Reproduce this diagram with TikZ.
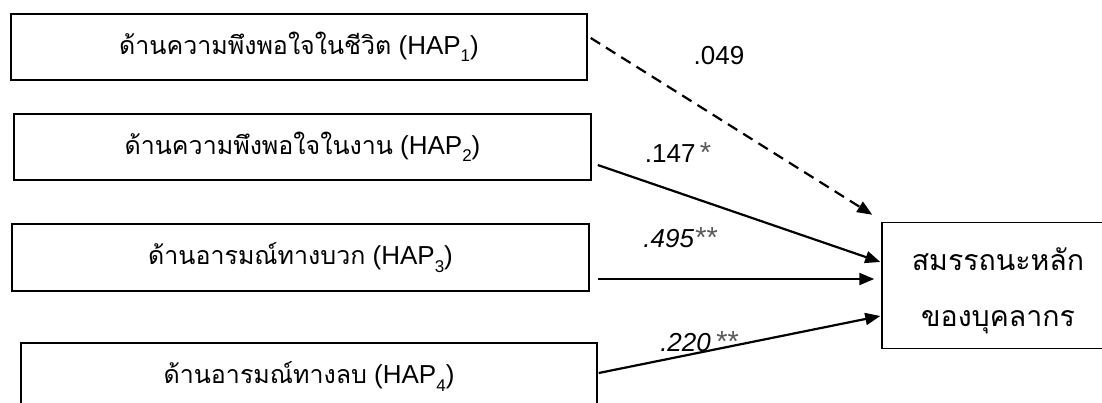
\documentclass[tikz,border=0pt]{standalone}
\usepackage{fontspec}
\setmainfont{Liberation Sans}
\newfontfamily\thaifont[Script=Thai]{Loma}
\usetikzlibrary{arrows.meta,calc}

% subscript index for the HAP labels
\newcommand{\hapidx}[1]{\raisebox{-0.28em}{\fontsize{17}{17}\selectfont #1}}
\newcommand{\hap}[2]{{\thaifont\fontsize{25}{28}\selectfont #1} (HAP\hapidx{#2})}
% significance mark
\newcommand{\sig}{{\fontsize{29}{30}\selectfont\color{black!65}*}}

\begin{document}
\begin{tikzpicture}[x=1pt,y=-1pt,
  box/.style={draw,line width=1.5pt,rectangle,inner sep=0pt,
    minimum height=66pt,font=\fontsize{26}{28}\selectfont},
  link/.style={line width=2.2pt,-{Triangle[length=15pt,width=12pt]}},
  weak/.style={link,dash pattern=on 11pt off 7pt},
  coef/.style={inner sep=0pt,font=\fontsize{26}{28}\selectfont}]
\useasboundingbox (0,0) rectangle (1102,403);
\clip (0,0) rectangle (1102,403);

% predictor boxes
\node[box,minimum width=576pt] (b1) at (299,47) {\hap{ด้านความพึงพอใจในชีวิต}{1}};
\node[box,minimum width=577pt] (b2) at (302.5,147) {\hap{ด้านความพึงพอใจในงาน}{2}};
\node[box,minimum width=577pt,minimum height=67pt] (b3) at (300.5,257.5) {\hap{ด้านอารมณ์ทางบวก}{3}};
\node[box,minimum width=576pt,minimum height=67pt] (b4) at (309,376.5) {\hap{ด้านอารมณ์ทางลบ}{4}};

% outcome box and its two-line label
\node[box,minimum width=230pt,minimum height=126pt] (t) at (997,285.5) {};
\node[inner sep=0pt,align=center,font=\thaifont\fontsize{28.5}{56}\selectfont]
  (tl) at (998,291) {สมรรถนะหลัก\\ของบุคลากร};

% paths
\draw[weak] ($(b1.east)+(3,-9)$) -- ($(t.north west)+(-9,-7)$);
\draw[link] ($(b2.east)+(6,18)$) -- ($(t.west)+(-1,-23.5)$);
\draw[link] ($(b3.east)+(8,21.5)$) -- ($(t.west)+(-7,-6.5)$);
\draw[link] ($(b4.east)+(1,-3.5)$) -- ($(t.west)+(-1,30.5)$);

% path coefficients
\node[coef] (c1) at (719,56) {.049};
\node[coef] (c2) at (678,153) {.147\,\sig};
\node[coef] (c3) at (680,238) {\itshape .495\sig\sig};
\node[coef] (c4) at (699,342) {\itshape .220\,\sig\sig};
\end{tikzpicture}
\end{document}
